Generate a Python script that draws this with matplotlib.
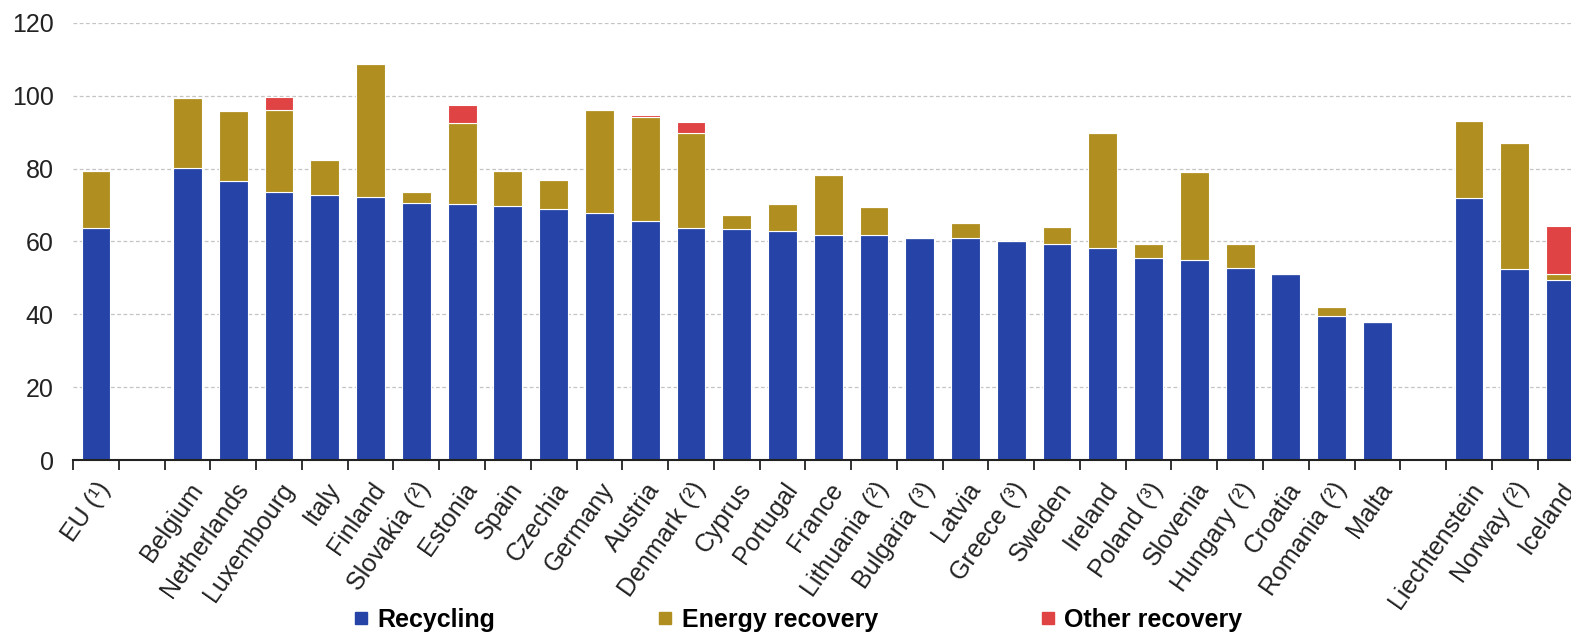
import matplotlib.pyplot as plt
from matplotlib.lines import Line2D
import numpy as np

plt.rcParams['font.family'] = ['Liberation Sans', 'DejaVu Sans']

nan = np.nan

# Categories ("" marks the gaps between groups)
labels = ["EU (¹)", "", "Belgium", "Netherlands", "Luxembourg", "Italy", "Finland",
          "Slovakia (²)", "Estonia", "Spain", "Czechia", "Germany", "Austria",
          "Denmark (²)", "Cyprus", "Portugal", "France", "Lithuania (²)",
          "Bulgaria (³)", "Latvia", "Greece (³)", "Sweden", "Ireland", "Poland (³)",
          "Slovenia", "Hungary (²)", "Croatia", "Romania (²)", "Malta", "",
          "Liechtenstein", "Norway (²)", "Iceland"]

recycling = [63.8, nan, 80.3, 76.6, 73.5, 72.7, 72.2, 70.7, 70.2, 69.8, 68.9, 67.8,
             65.7, 63.8, 63.3, 63.0, 61.8, 61.8, 61.0, 61.0, 60.2, 59.4, 58.2, 55.4,
             55.0, 52.6, 51.0, 39.6, 38.0, nan, 71.9, 52.4, 49.5]

energy_recovery = [15.6, nan, 19.0, 19.1, 22.7, 9.6, 36.4, 3.0, 22.2, 9.6, 8.1, 28.3,
                   28.4, 25.9, 4.1, 7.2, 16.4, 7.7, 0.0, 4.0, 0.0, 4.5, 31.7, 4.0,
                   24.1, 6.8, 0.0, 2.3, 0.0, nan, 21.3, 34.6, 1.6]

other_recovery = [0.0, nan, 0.0, 0.0, 3.6, 0.0, 0.0, 0.0, 5.0, 0.0, 0.0, 0.0,
                  0.7, 3.1, 0.0, 0.0, 0.0, 0.0, 0.0, 0.0, 0.0, 0.0, 0.0, 0.0,
                  0.0, 0.0, 0.0, 0.0, 0.0, nan, 0.0, 0.0, 13.1]

series_names = ["Recycling", "Energy recovery", "Other recovery"]
colors = ['#2644a7', '#b08f20', '#e04343']

rec = np.array(recycling)
en = np.array(energy_recovery)
oth = np.array(other_recovery)
x = np.arange(len(labels))

fig = plt.figure(figsize=(15.71, 6.33), dpi=100)
# axes run slightly past the right edge, as in the reference (Iceland is cut off)
ax = fig.add_axes([0.0465, 0.2733, 0.9614, 0.6904])

bw = 0.63
ax.bar(x, rec, bw, color=colors[0], edgecolor='white', linewidth=0.8, zorder=3)
ax.bar(x, en, bw, bottom=rec, color=colors[1], edgecolor='white', linewidth=0.8, zorder=3)
ax.bar(x, oth, bw, bottom=rec + en, color=colors[2], edgecolor='white', linewidth=0.8, zorder=3)

ax.set_xlim(-0.5, len(labels) - 0.5)
ax.set_ylim(0, 120)
ax.set_yticks(np.arange(0, 121, 20))
ax.tick_params(axis='y', length=0, pad=14, labelsize=18, labelcolor='#222222')

ax.set_xticks(x)
ax.set_xticklabels(labels, rotation=55, ha='right', va='top', rotation_mode='anchor',
                   fontsize=18, color='#222222')
ax.tick_params(axis='x', which='major', length=0, pad=13)
ax.set_xticks(np.arange(-0.5, len(labels), 1), minor=True)
ax.tick_params(axis='x', which='minor', length=7, width=1.3, color='#222222')

for y in range(20, 121, 20):
    ax.axhline(y, color='#c4c4c4', linestyle=(0, (3, 2)), linewidth=0.9, zorder=1)

for s in ['top', 'right', 'left']:
    ax.spines[s].set_visible(False)
ax.spines['bottom'].set_color('#222222')
ax.spines['bottom'].set_linewidth(1.5)
ax.spines['bottom'].set_zorder(4)

handles = [Line2D([0], [0], marker='s', linestyle='none', markersize=9,
                  markerfacecolor=c, markeredgecolor=c) for c in colors]
leg = fig.legend(handles, series_names, loc='center', bbox_to_anchor=(0.508, 0.021),
                 ncol=3, frameon=False, handlelength=0.6, handletextpad=0.35,
                 columnspacing=6.5, prop={'size': 18, 'weight': 'bold'})

fig.savefig('out.png', dpi=100)
